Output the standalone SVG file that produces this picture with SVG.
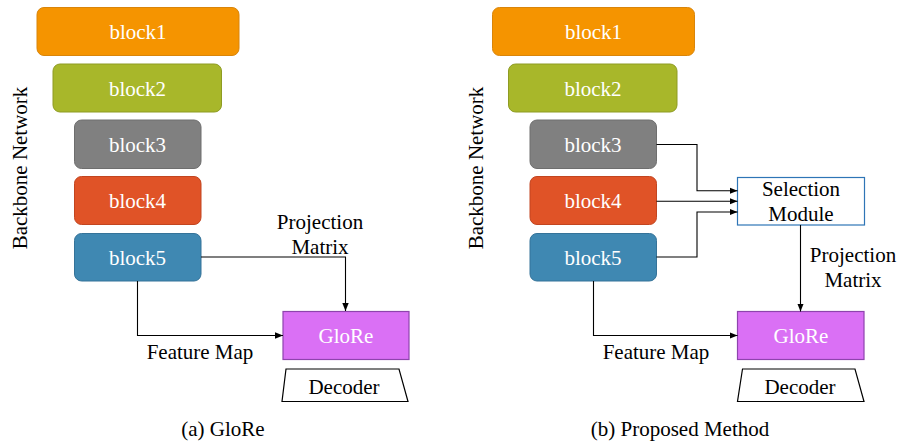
<svg xmlns="http://www.w3.org/2000/svg" width="900" height="441" viewBox="0 0 900 441">
  <style>
    text { font-family: 'Liberation Serif', 'DejaVu Serif', serif; font-size: 21px; }
    .lbl { fill: #000; text-anchor: middle; }
    .blk { fill: #fff; text-anchor: middle; }
    .b1 { fill: #F59400; stroke: #D9850A; stroke-width: 1; }
    .b2 { fill: #A8B72A; stroke: #8E9B22; stroke-width: 1; }
    .b3 { fill: #808080; stroke: #6E6E6E; stroke-width: 1; }
    .b4 { fill: #E05327; stroke: #C24520; stroke-width: 1; }
    .b5 { fill: #3F88B2; stroke: #357399; stroke-width: 1; }
    .glore { fill: #DA70F5; stroke: #8E44AD; stroke-width: 1.2; }
    .sel { fill: #fff; stroke: #2E75B6; stroke-width: 1.2; }
    .dec { fill: #fff; stroke: #000; stroke-width: 1.2; }
    .conn { fill: none; stroke: #000; stroke-width: 1.1; marker-end: url(#arrow); }
  </style>
  <defs>
    <marker id="arrow" viewBox="0 0 10 10" refX="10" refY="5" markerWidth="8" markerHeight="8" markerUnits="userSpaceOnUse" orient="auto">
      <path d="M0,1 L10,5 L0,9 z" fill="#000"/>
    </marker>
  </defs>

  <!-- Panel (a): GloRe -->
  <text class="lbl" transform="translate(26.5,168) rotate(-90)">Backbone Network</text>

  <g id="a-block1">
    <rect class="b1" x="37" y="7.5" width="202" height="48" rx="7"/>
    <text class="blk" x="138" y="39">block1</text>
  </g>
  <g id="a-block2">
    <rect class="b2" x="53" y="64" width="168.5" height="48" rx="7"/>
    <text class="blk" x="137.5" y="95.5">block2</text>
  </g>
  <g id="a-block3">
    <rect class="b3" x="74.5" y="120" width="126.5" height="48.5" rx="7"/>
    <text class="blk" x="137.5" y="152">block3</text>
  </g>
  <g id="a-block4">
    <rect class="b4" x="74.5" y="176.5" width="126.5" height="48" rx="7"/>
    <text class="blk" x="137.5" y="208">block4</text>
  </g>
  <g id="a-block5">
    <rect class="b5" x="74.5" y="233.5" width="126.5" height="47.5" rx="7"/>
    <text class="blk" x="137.5" y="264.5">block5</text>
  </g>
  <g id="a-glore">
    <rect class="glore" x="283" y="311.5" width="126" height="48"/>
    <text class="blk" x="346" y="342.5">GloRe</text>
  </g>
  <g id="a-decoder">
    <path class="dec" d="M286,369 L399,369 L408,401.5 L282,401.5 Z"/>
    <text class="lbl" x="344" y="394">Decoder</text>
  </g>

  <g id="a-connectors">
    <path class="conn" d="M201,257 H345.5 V311"/>
    <path class="conn" d="M137.5,281 V335.5 H283"/>
  </g>
  <text class="lbl" x="320" y="228.5">Projection</text>
  <text class="lbl" x="320" y="253.5">Matrix</text>
  <text class="lbl" x="200" y="358.5">Feature Map</text>
  <text class="lbl" x="223" y="436">(a) GloRe</text>

  <!-- Panel (b): Proposed Method -->
  <text class="lbl" transform="translate(482.5,168) rotate(-90)">Backbone Network</text>

  <g id="b-block1">
    <rect class="b1" x="492.5" y="7.5" width="202" height="48" rx="7"/>
    <text class="blk" x="593.5" y="39">block1</text>
  </g>
  <g id="b-block2">
    <rect class="b2" x="508.5" y="64" width="168.5" height="48" rx="7"/>
    <text class="blk" x="593" y="95.5">block2</text>
  </g>
  <g id="b-block3">
    <rect class="b3" x="530" y="120" width="126.5" height="48.5" rx="7"/>
    <text class="blk" x="593" y="152">block3</text>
  </g>
  <g id="b-block4">
    <rect class="b4" x="530" y="176.5" width="126.5" height="48" rx="7"/>
    <text class="blk" x="593" y="208">block4</text>
  </g>
  <g id="b-block5">
    <rect class="b5" x="530" y="233.5" width="126.5" height="47.5" rx="7"/>
    <text class="blk" x="593" y="264.5">block5</text>
  </g>
  <g id="b-selection">
    <rect class="sel" x="737.5" y="177.5" width="127" height="47.5"/>
    <text class="lbl" x="801" y="196">Selection</text>
    <text class="lbl" x="801" y="220.5">Module</text>
  </g>
  <g id="b-glore">
    <rect class="glore" x="737.5" y="311.5" width="126.5" height="48"/>
    <text class="blk" x="801" y="342.5">GloRe</text>
  </g>
  <g id="b-decoder">
    <path class="dec" d="M742.5,369 L855,369 L864,401.5 L737.5,401.5 Z"/>
    <text class="lbl" x="800" y="394">Decoder</text>
  </g>

  <g id="b-connectors">
    <path class="conn" d="M656.5,144.5 H697 V190.8 H737.5"/>
    <path class="conn" d="M656.5,201.3 H737.5"/>
    <path class="conn" d="M656.5,257 H697 V212 H737.5"/>
    <path class="conn" d="M800.5,225 V311.5"/>
    <path class="conn" d="M593.5,281 V335.5 H737.5"/>
  </g>
  <text class="lbl" x="853" y="262">Projection</text>
  <text class="lbl" x="853" y="287">Matrix</text>
  <text class="lbl" x="656" y="358.5">Feature Map</text>
  <text class="lbl" x="680" y="436">(b) Proposed Method</text>
</svg>
